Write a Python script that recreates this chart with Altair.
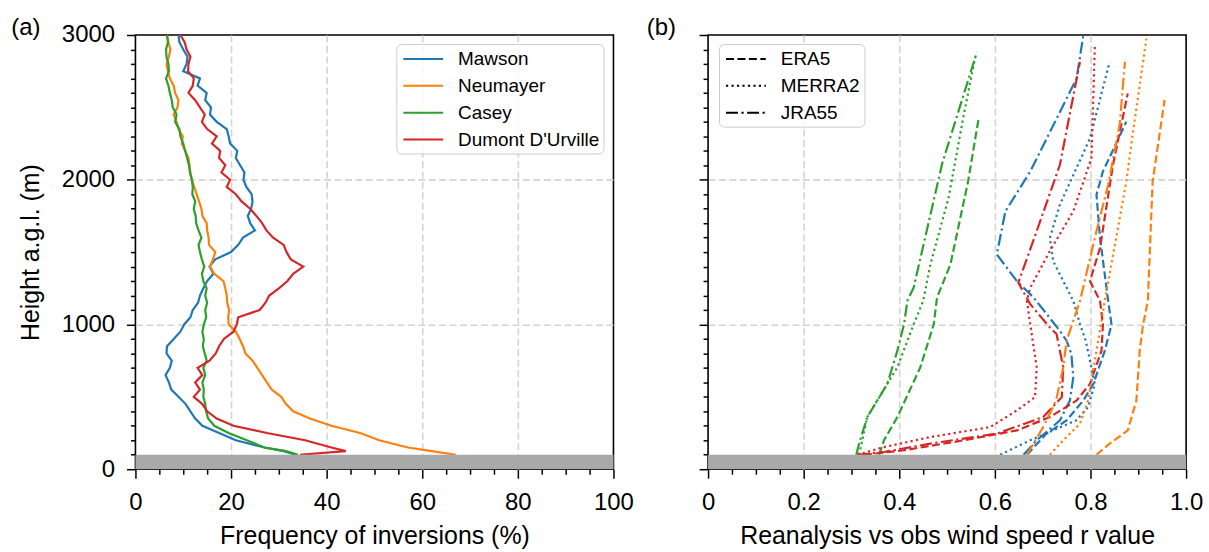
import altair as alt
import pandas as pd

FONT = "Liberation Sans"

# ---------------- Panel (a): frequency of inversions ----------------
heights_a = [100, 125, 150, 200, 250, 300, 350, 400, 450, 500, 550, 600, 650, 700, 750,
             800, 850, 900, 950, 1000, 1050, 1100, 1150, 1200, 1250, 1300, 1350, 1400,
             1450, 1500, 1550, 1600, 1650, 1700, 1750, 1800, 1850, 1900, 1950, 2000,
             2050, 2100, 2150, 2200, 2250, 2300, 2350, 2400, 2450, 2500, 2550, 2600,
             2650, 2700, 2750, 2800, 2850, 2900, 2950, 3000]

mawson = [33.5, 31.0, 27.0, 21.0, 17.5, 14.0, 12.5, 11.5, 10.5, 9.0, 7.5, 7.0, 6.3, 7.2, 7.6,
          6.5, 6.6, 8.0, 9.4, 10.2, 11.5, 12.0, 13.1, 13.5, 14.2, 15.0, 16.3, 15.5,
          16.7, 20.0, 21.5, 22.5, 25.0, 24.0, 23.5, 24.2, 24.5, 24.3, 23.2, 22.6,
          22.8, 21.9, 21.0, 21.3, 19.8, 19.5, 19.1, 17.0, 15.6, 15.8, 14.6, 14.9,
          13.0, 13.5, 10.0, 10.7, 10.9, 10.0, 9.2, 9.0]

neumayer = [67.0, 62.0, 57.0, 51.0, 47.0, 41.0, 36.5, 33.0, 31.5, 30.5, 28.5, 27.5, 26.5, 25.5, 24.5,
            23.0, 22.5, 21.8, 21.0, 19.5, 19.4, 19.6, 19.2, 19.1, 18.8, 18.4, 16.5, 15.6,
            16.2, 16.7, 15.4, 15.3, 15.0, 14.9, 14.0, 13.8, 13.3, 12.8, 12.3, 11.8,
            11.5, 11.3, 11.1, 10.4, 9.7, 9.9, 9.0, 8.6, 8.0, 8.8, 9.0, 8.3,
            8.0, 7.2, 6.8, 6.5, 7.0, 7.3, 6.9, 6.6]

casey = [34.0, 31.5, 27.0, 23.3, 19.5, 16.5, 15.2, 14.8, 14.6, 14.2, 14.3, 14.0, 14.6, 14.2, 14.9,
         14.5, 14.1, 14.3, 14.0, 14.3, 14.8, 14.6, 15.0, 14.6, 14.9, 14.2, 13.9, 14.4,
         13.9, 13.5, 13.2, 13.8, 13.2, 12.7, 12.6, 12.2, 12.5, 11.9, 12.0, 11.8,
         11.4, 11.2, 10.8, 10.4, 10.0, 9.4, 9.2, 8.3, 8.6, 7.8, 7.6, 7.2,
         6.9, 6.4, 7.0, 6.9, 6.5, 6.4, 6.8, 6.6]

dumont = [34.4, 44.0, 41.0, 35.5, 27.5, 20.5, 17.0, 15.0, 14.0, 12.2, 13.5, 12.5, 14.0, 13.0, 15.5,
          16.8, 17.5, 18.5, 20.5, 21.2, 21.5, 26.0, 27.2, 28.0, 30.0, 31.8, 33.0, 35.1,
          32.5, 31.6, 31.0, 28.8, 27.4, 26.5, 25.3, 24.0, 22.2, 21.0, 19.1, 19.8,
          18.0, 18.8, 17.5, 17.7, 16.0, 17.0, 15.0, 13.9, 14.5, 13.5, 12.5, 11.1,
          12.0, 12.2, 11.0, 11.1, 11.5, 10.7, 10.3, 9.4]

stations = ["Mawson", "Neumayer", "Casey", "Dumont D'Urville"]
station_colors = ["#1f77b4", "#ff7f0e", "#2ca02c", "#d62728"]

# ---------------- Panel (b): reanalysis r values ----------------
reanalyses = ["ERA5", "MERRA2", "JRA55"]
dash_patterns = [[8, 3.5], [2.2, 3.3], [12, 3.5, 2.2, 3.5]]

b_series = {
    ("Casey", "JRA55"): ([100, 177, 360, 590, 819, 1003, 1163, 1254, 2115, 2883],
                         [0.31, 0.316, 0.333, 0.375, 0.396, 0.41, 0.417, 0.43, 0.49, 0.5625]),
    ("Casey", "MERRA2"): ([100, 360, 590, 704, 1000, 1163, 1415, 1874, 2450, 2849],
                          [0.316, 0.333, 0.375, 0.396, 0.43, 0.45, 0.465, 0.503, 0.535, 0.559]),
    ("Casey", "ERA5"): ([100, 200, 360, 704, 1000, 1186, 1415, 1989, 2424],
                        [0.358, 0.368, 0.396, 0.444, 0.472, 0.479, 0.507, 0.544, 0.566]),
    ("Mawson", "JRA55"): ([100, 200, 337, 475, 635, 796, 888, 956, 1186, 1300, 1484, 1782, 2057, 2700, 2998],
                          [0.66, 0.6875, 0.736, 0.757, 0.764, 0.76, 0.75, 0.736, 0.681, 0.646, 0.604, 0.622, 0.674, 0.771, 0.785]),
    ("Mawson", "MERRA2"): ([100, 200, 337, 429, 590, 888, 1003, 1163, 1438, 1598, 1828, 2287, 2814],
                           [0.611, 0.674, 0.77, 0.795, 0.809, 0.79, 0.778, 0.764, 0.722, 0.715, 0.736, 0.799, 0.84]),
    ("Mawson", "ERA5"): ([100, 246, 337, 475, 590, 819, 1000, 1163, 1598, 1897, 2057, 2401],
                         [0.667, 0.708, 0.75, 0.785, 0.806, 0.83, 0.844, 0.837, 0.82, 0.8125, 0.826, 0.875]),
    ("Dumont D'Urville", "JRA55"): ([100, 119, 177, 246, 360, 498, 704, 934, 979, 1140, 1289, 1645, 2103, 2814],
                                    [0.3125, 0.368, 0.465, 0.604, 0.701, 0.74, 0.743, 0.729, 0.715, 0.674, 0.649, 0.6875, 0.736, 0.778]),
    ("Dumont D'Urville", "MERRA2"): ([100, 153, 222, 291, 406, 498, 704, 1000, 1163, 1254, 1507, 1782, 2149, 2917],
                                     [0.3125, 0.368, 0.465, 0.59, 0.646, 0.684, 0.6875, 0.674, 0.667, 0.674, 0.715, 0.764, 0.802, 0.809]),
    ("Dumont D'Urville", "ERA5"): ([100, 131, 200, 268, 360, 475, 590, 819, 1000, 1163, 1300, 1530, 2103, 2596],
                                   [0.326, 0.41, 0.535, 0.646, 0.715, 0.771, 0.799, 0.823, 0.826, 0.82, 0.799, 0.82, 0.847, 0.878]),
    ("Neumayer", "ERA5"): ([100, 177, 268, 475, 819, 1000, 1163, 1989, 2551],
                           [0.8125, 0.84, 0.878, 0.896, 0.903, 0.91, 0.92, 0.93, 0.955]),
    ("Neumayer", "MERRA2"): ([100, 200, 314, 475, 819, 1163, 1989, 2333, 2975],
                             [0.715, 0.743, 0.778, 0.795, 0.8125, 0.83, 0.875, 0.889, 0.917]),
    ("Neumayer", "JRA55"): ([100, 291, 475, 704, 888, 1163, 1645, 1966, 2379, 2814],
                            [0.667, 0.701, 0.728, 0.743, 0.75, 0.778, 0.8125, 0.837, 0.861, 0.872]),
}

# tick positions
y_ticks = list(range(0, 3001, 100))
xa_ticks = list(range(0, 101, 5))
xb_ticks = [round(i * 0.05, 2) for i in range(21)]

# ---------------- data frames ----------------
rows_a = []
for st, vals in zip(stations, [mawson, neumayer, casey, dumont]):
    for h, v in zip(heights_a, vals):
        rows_a.append({"station": st, "height": h, "freq": v})
df_a = pd.DataFrame(rows_a)

rows_b = []
for (st, ra), (hs, rs) in b_series.items():
    for h, r in zip(hs, rs):
        rows_b.append({"station": st, "reanalysis": ra, "series": st + "|" + ra, "height": h, "r": r})
df_b = pd.DataFrame(rows_b)

band = pd.DataFrame({"lo": [0], "hi": [100]})

W, H = 480, 436
TICK_MAJ, TICK_MIN = 9, 5
GRID_COLOR = "#d4d4d4"
GRID_DASH = [7, 3.5]
LINE_W = 2.2


def y_axis(show):
    major = "datum.value % 1000 === 0"
    inner = major + " && datum.value > 0 && datum.value < 3000"
    kw = dict(
        values=y_ticks, tickCount=200,
        format="d",
        tickSize={"condition": {"test": major, "value": TICK_MAJ}, "value": TICK_MIN},
        gridOpacity={"condition": {"test": inner, "value": 1}, "value": 0},
        grid=True, gridColor=GRID_COLOR, gridDash=GRID_DASH, gridWidth=1.6,
        domain=False, tickColor="black", tickWidth=1.5,
        labelFont=FONT, labelFontSize=24, labelColor="black", labelPadding=12,
        labelOverlap=False, labelBound=False,
    )
    if show:
        kw.update(labelExpr="datum.value % 1000 === 0 ? datum.label : ''",
                  title="Height a.g.l. (m)", titleFont=FONT, titleFontSize=25,
                  titleFontWeight="normal", titleColor="black", titlePadding=18)
    else:
        kw.update(labels=False, title=None)
    return alt.Axis(**kw)


def x_axis(values, major_test, inner_test, label_expr, title):
    return alt.Axis(
        values=values, tickCount=200,
        tickSize={"condition": {"test": major_test, "value": TICK_MAJ}, "value": TICK_MIN},
        gridOpacity={"condition": {"test": inner_test, "value": 1}, "value": 0},
        grid=True, gridColor=GRID_COLOR, gridDash=GRID_DASH, gridWidth=1.6,
        domain=False, tickColor="black", tickWidth=1.5,
        labelExpr=label_expr, labelFont=FONT, labelFontSize=24, labelColor="black",
        labelPadding=12, labelFlush=False, labelOverlap=False, labelBound=False,
        title=title, titleFont=FONT, titleFontSize=25, titleFontWeight="normal",
        titleColor="black", titlePadding=10,
    )


def legend(x, y, **extra):
    return alt.Legend(
        orient="none", legendX=x, legendY=y, title=None,
        labelFont=FONT, labelFontSize=19, labelColor="black",
        symbolType="M-2,0H2", symbolSize=400, symbolStrokeWidth=2,
        symbolFillColor="transparent",
        symbolOffset=12, labelOffset=24, rowPadding=6, padding=4,
        fillColor="rgba(255,255,255,0.8)", strokeColor="#cccccc",
        cornerRadius=5, **extra)


# ---------------- panel (a) ----------------
xa_scale = alt.Scale(domain=[0, 100], nice=False)
y_scale = alt.Scale(domain=[0, 3000], nice=False)

lines_a = alt.Chart(df_a).mark_line(strokeWidth=LINE_W).encode(
    x=alt.X("freq:Q", scale=xa_scale,
            axis=x_axis(xa_ticks, "datum.value % 20 === 0",
                        "datum.value % 20 === 0 && datum.value > 0 && datum.value < 100",
                        "datum.value % 20 === 0 ? format(datum.value, 'd') : ''",
                        "Frequency of inversions (%)")),
    y=alt.Y("height:Q", scale=y_scale, axis=y_axis(True)),
    order=alt.Order("height:Q"),
    color=alt.Color("station:N",
                    scale=alt.Scale(domain=stations, range=station_colors),
                    legend=legend(262, 9)),
)

band_a = alt.Chart(band).mark_rect(color="#a9a9a9").encode(
    x=alt.datum(0, scale=xa_scale), x2=alt.datum(100),
    y=alt.Y("lo:Q", scale=y_scale), y2="hi:Q",
)

label_a = alt.Chart(pd.DataFrame({"t": ["(a)"]})).mark_text(
    font=FONT, fontSize=24, align="center", baseline="alphabetic", color="black"
).encode(text="t:N", x=alt.value(-110), y=alt.value(0))

panel_a = alt.layer(lines_a, band_a, label_a).properties(width=W, height=H)

# ---------------- panel (b) ----------------
xb_scale = alt.Scale(domain=[0, 1], nice=False)
major_b = "abs(datum.value * 5 - round(datum.value * 5)) < 0.001"
inner_b = "(" + major_b + ") && datum.value > 0.01 && datum.value < 0.99"

lines_b = alt.Chart(df_b).mark_line(strokeWidth=LINE_W).encode(
    x=alt.X("r:Q", scale=xb_scale,
            axis=x_axis(xb_ticks, major_b, inner_b,
                        "(" + major_b + ") ? (datum.value === 0 ? '0' : format(datum.value, '.1f')) : ''",
                        "Reanalysis vs obs wind speed r value")),
    y=alt.Y("height:Q", scale=y_scale, axis=y_axis(False)),
    order=alt.Order("height:Q"),
    detail="series:N",
    color=alt.Color("station:N", scale=alt.Scale(domain=stations, range=station_colors), legend=None),
    strokeDash=alt.StrokeDash("reanalysis:N",
                              scale=alt.Scale(domain=reanalyses, range=dash_patterns),
                              legend=legend(11, 9, symbolStrokeColor="black")),
)

band_b = alt.Chart(band).mark_rect(color="#a9a9a9").encode(
    x=alt.datum(0, scale=xb_scale), x2=alt.datum(1),
    y=alt.Y("lo:Q", scale=y_scale), y2="hi:Q",
)

label_b = alt.Chart(pd.DataFrame({"t": ["(b)"]})).mark_text(
    font=FONT, fontSize=24, align="center", baseline="alphabetic", color="black"
).encode(text="t:N", x=alt.value(-47), y=alt.value(0))

panel_b = alt.layer(lines_b, band_b, label_b).properties(width=W, height=H)

chart = alt.hconcat(panel_a, panel_b, spacing=95, bounds="flush").resolve_scale(
    color="independent", strokeDash="independent", x="independent"
).properties(
    padding={"left": 10, "top": 14, "right": 5, "bottom": 5},
    background="white",
).configure_view(stroke="black", strokeWidth=1.6)

chart.save("out.html", embed_options={"renderer": "svg", "actions": False})
